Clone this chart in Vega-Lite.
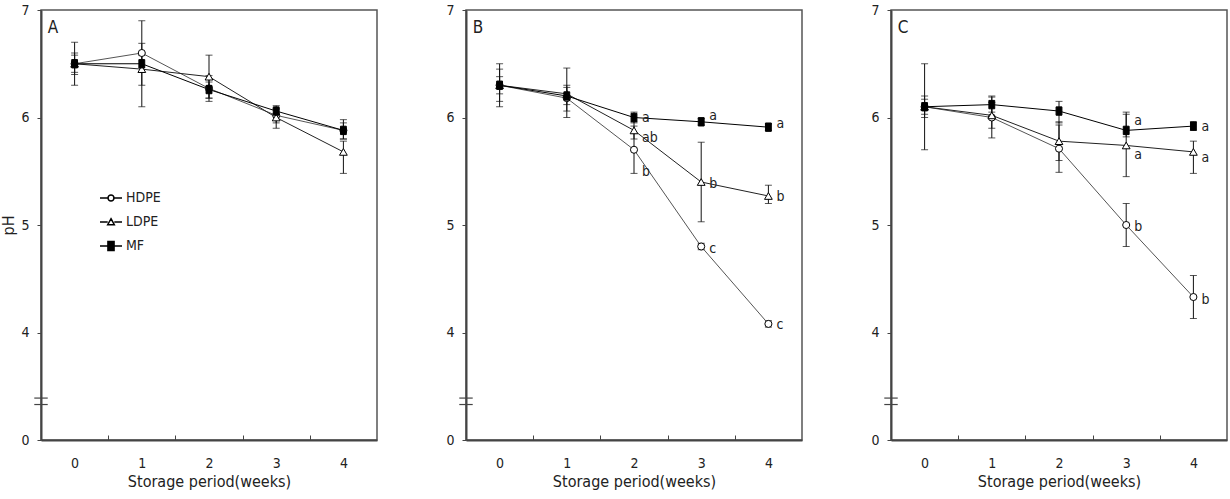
{
  "$schema": "https://vega.github.io/schema/vega-lite/v6.json",
  "padding": {"left": 0, "top": 2, "right": 4, "bottom": 0},
  "background": "white",
  "datasets": {
    "pts": [
      {"panel":"A","s":"HDPE","w":0,"ph":6.50,"lo":6.30,"hi":6.70},
      {"panel":"A","s":"HDPE","w":1,"ph":6.60,"lo":6.30,"hi":6.90},
      {"panel":"A","s":"HDPE","w":2,"ph":6.27,"lo":6.15,"hi":6.39},
      {"panel":"A","s":"HDPE","w":3,"ph":6.02,"lo":5.95,"hi":6.08},
      {"panel":"A","s":"HDPE","w":4,"ph":5.88,"lo":5.80,"hi":5.95},
      {"panel":"A","s":"LDPE","w":0,"ph":6.50,"lo":6.40,"hi":6.60},
      {"panel":"A","s":"LDPE","w":1,"ph":6.45,"lo":6.10,"hi":6.69},
      {"panel":"A","s":"LDPE","w":2,"ph":6.38,"lo":6.18,"hi":6.58},
      {"panel":"A","s":"LDPE","w":3,"ph":6.00,"lo":5.90,"hi":6.08},
      {"panel":"A","s":"LDPE","w":4,"ph":5.68,"lo":5.48,"hi":5.78},
      {"panel":"A","s":"MF","w":0,"ph":6.50,"lo":6.42,"hi":6.58},
      {"panel":"A","s":"MF","w":1,"ph":6.50,"lo":6.42,"hi":6.58},
      {"panel":"A","s":"MF","w":2,"ph":6.26,"lo":6.18,"hi":6.33},
      {"panel":"A","s":"MF","w":3,"ph":6.06,"lo":6.01,"hi":6.11},
      {"panel":"A","s":"MF","w":4,"ph":5.88,"lo":5.80,"hi":5.98},
      {"panel":"B","s":"HDPE","w":0,"ph":6.30,"lo":6.10,"hi":6.50},
      {"panel":"B","s":"HDPE","w":1,"ph":6.18,"lo":6.06,"hi":6.30},
      {"panel":"B","s":"HDPE","w":2,"ph":5.70,"lo":5.48,"hi":5.92},
      {"panel":"B","s":"HDPE","w":3,"ph":4.80,"lo":4.77,"hi":4.83},
      {"panel":"B","s":"HDPE","w":4,"ph":4.08,"lo":4.05,"hi":4.11},
      {"panel":"B","s":"LDPE","w":0,"ph":6.30,"lo":6.15,"hi":6.45},
      {"panel":"B","s":"LDPE","w":1,"ph":6.22,"lo":6.00,"hi":6.46},
      {"panel":"B","s":"LDPE","w":2,"ph":5.88,"lo":5.80,"hi":5.96},
      {"panel":"B","s":"LDPE","w":3,"ph":5.40,"lo":5.03,"hi":5.77},
      {"panel":"B","s":"LDPE","w":4,"ph":5.27,"lo":5.20,"hi":5.37},
      {"panel":"B","s":"MF","w":0,"ph":6.30,"lo":6.22,"hi":6.38},
      {"panel":"B","s":"MF","w":1,"ph":6.20,"lo":6.12,"hi":6.28},
      {"panel":"B","s":"MF","w":2,"ph":6.00,"lo":5.95,"hi":6.05},
      {"panel":"B","s":"MF","w":3,"ph":5.96,"lo":5.93,"hi":5.99},
      {"panel":"B","s":"MF","w":4,"ph":5.91,"lo":5.88,"hi":5.94},
      {"panel":"C","s":"HDPE","w":0,"ph":6.10,"lo":5.70,"hi":6.50},
      {"panel":"C","s":"HDPE","w":1,"ph":6.00,"lo":5.81,"hi":6.19},
      {"panel":"C","s":"HDPE","w":2,"ph":5.71,"lo":5.49,"hi":5.93},
      {"panel":"C","s":"HDPE","w":3,"ph":5.00,"lo":4.80,"hi":5.20},
      {"panel":"C","s":"HDPE","w":4,"ph":4.33,"lo":4.13,"hi":4.53},
      {"panel":"C","s":"LDPE","w":0,"ph":6.10,"lo":6.00,"hi":6.20},
      {"panel":"C","s":"LDPE","w":1,"ph":6.02,"lo":5.90,"hi":6.14},
      {"panel":"C","s":"LDPE","w":2,"ph":5.78,"lo":5.60,"hi":5.96},
      {"panel":"C","s":"LDPE","w":3,"ph":5.74,"lo":5.45,"hi":6.03},
      {"panel":"C","s":"LDPE","w":4,"ph":5.68,"lo":5.48,"hi":5.78},
      {"panel":"C","s":"MF","w":0,"ph":6.10,"lo":6.03,"hi":6.17},
      {"panel":"C","s":"MF","w":1,"ph":6.12,"lo":6.05,"hi":6.20},
      {"panel":"C","s":"MF","w":2,"ph":6.06,"lo":5.95,"hi":6.15},
      {"panel":"C","s":"MF","w":3,"ph":5.88,"lo":5.82,"hi":6.05},
      {"panel":"C","s":"MF","w":4,"ph":5.92,"lo":5.88,"hi":5.96}
    ],
    "lbl": [
      {"panel":"B","w":2,"ph":6.00,"t":"a"},
      {"panel":"B","w":2,"ph":5.81,"t":"ab"},
      {"panel":"B","w":2,"ph":5.49,"t":"b"},
      {"panel":"B","w":3,"ph":6.01,"t":"a"},
      {"panel":"B","w":3,"ph":5.38,"t":"b"},
      {"panel":"B","w":3,"ph":4.78,"t":"c"},
      {"panel":"B","w":4,"ph":5.94,"t":"a"},
      {"panel":"B","w":4,"ph":5.26,"t":"b"},
      {"panel":"B","w":4,"ph":4.07,"t":"c"},
      {"panel":"C","w":3,"ph":5.97,"t":"a"},
      {"panel":"C","w":3,"ph":5.65,"t":"a"},
      {"panel":"C","w":3,"ph":4.98,"t":"b"},
      {"panel":"C","w":4,"ph":5.91,"t":"a"},
      {"panel":"C","w":4,"ph":5.62,"t":"a"},
      {"panel":"C","w":4,"ph":4.30,"t":"b"}
    ],
    "tag": [
      {"panel":"A","w":-0.4,"ph":6.83,"t":"A"},
      {"panel":"B","w":-0.4,"ph":6.83,"t":"B"},
      {"panel":"C","w":-0.4,"ph":6.83,"t":"C"}
    ],
    "brk": [
      {"w":-0.6,"w2":-0.4,"ph":3.39},
      {"w":-0.6,"w2":-0.4,"ph":3.33}
    ],
    "leg": [
      {"s":"HDPE"},{"s":"LDPE"},{"s":"MF"}
    ]
  },
  "spacing": 67,
  "hconcat": [
    {
      "width": 336, "height": 430,
      "resolve": {"scale": {"shape": "independent"}},
      "encoding": {
        "x": {"field":"w","type":"quantitative","scale":{"domain":[-0.5,4.5],"nice":false,"zero":false},
              "axis":{"title":"Storage period(weeks)","values":[0,0.5,1,1.5,2,2.5,3,3.5,4],"labelExpr":"datum.value % 1 === 0 ? format(datum.value, 'd') : ''","tickOpacity":{"condition":{"test":"datum.value % 1 === 0","value":0},"value":1},"tickSize":-5,"labelPadding":21,"titlePadding":3}},
        "y": {"field":"ph","type":"quantitative","scale":{"domain":[3,7],"nice":false,"zero":false},"axis":{"title":"pH","values":[3,4,5,6,7]}}
      },
      "layer": [
        {"data":{"name":"pts"},"transform":[{"filter":"datum.panel == 'A'"}],
         "mark":{"type":"rule","color":"#111","strokeWidth":1},
         "encoding":{"y":{"field":"lo","type":"quantitative","scale":{"domain":[3,7],"nice":false,"zero":false},"axis":{"title":"pH","values":[3,4,5,6,7]}},"y2":{"field":"hi"}}},
        {"data":{"name":"pts"},"transform":[{"filter":"datum.panel == 'A'"}],
         "mark":{"type":"tick","orient":"horizontal","color":"#111","size":7,"thickness":1},
         "encoding":{"y":{"field":"lo","type":"quantitative","scale":{"domain":[3,7],"nice":false,"zero":false},"axis":{"title":"pH","values":[3,4,5,6,7]}}}},
        {"data":{"name":"pts"},"transform":[{"filter":"datum.panel == 'A'"}],
         "mark":{"type":"tick","orient":"horizontal","color":"#111","size":7,"thickness":1},
         "encoding":{"y":{"field":"hi","type":"quantitative","scale":{"domain":[3,7],"nice":false,"zero":false},"axis":{"title":"pH","values":[3,4,5,6,7]}}}},
        {"data":{"name":"brk"},
         "mark":{"type":"rule","color":"#444","strokeWidth":1.2,"clip":false},
         "encoding":{"x2":{"field":"w2"}}},
        {"data":{"name":"pts"},"transform":[{"filter":"datum.panel == 'A'"}],
         "mark":{"type":"line"},
         "encoding":{"stroke":{"field":"s","type":"nominal","scale":{"domain":["HDPE","LDPE","MF"],"range":["#555","#222","#000"]},"legend":null},
                     "strokeWidth":{"field":"s","type":"nominal","scale":{"domain":["HDPE","LDPE","MF"],"range":[1,1,1.5]},"legend":null}}},
        {"data":{"name":"pts"},"transform":[{"filter":"datum.panel == 'A'"}],
         "mark":{"type":"point","filled":false,"stroke":"#000","strokeWidth":1,"opacity":1},
         "encoding":{"shape":{"field":"s","type":"nominal","scale":{"domain":["HDPE","LDPE","MF"],"range":["circle","triangle-up","M-0.7,-1H0.7V1H-0.7Z"]},"legend":null},
                     "fill":{"field":"s","type":"nominal","scale":{"domain":["HDPE","LDPE","MF"],"range":["#fff","#fff","#000"]},"legend":null},
                     "size":{"field":"s","type":"nominal","scale":{"domain":["HDPE","LDPE","MF"],"range":[50,70,144]},"legend":null}}},
        {"data":{"name":"tag"},"transform":[{"filter":"datum.panel == 'A'"}],
         "mark":{"type":"text","align":"left","baseline":"middle","fontSize":17,"color":"#222"},
         "encoding":{"text":{"field":"t"}}},
        {"data":{"name":"leg"},"transform":[{"filter":"false"}],
         "mark":{"type":"point","stroke":"#000","strokeWidth":1,"opacity":1,"size":484,"filled":false},
         "encoding":{"shape":{"field":"s","type":"nominal","scale":{"domain":["HDPE","LDPE","MF"],"range":["M-1,0H-0.27M0.27,0H1M-0.27,0A0.27,0.27 0 1,0 0.27,0A0.27,0.27 0 1,0 -0.27,0Z","M-1,0H-0.3M0.3,0H1M0,-0.3L0.3,0.25H-0.3Z","M-1,0H-0.28M0.28,0H1M-0.28,-0.4H0.28V0.4H-0.28ZM-0.24,-0.4V0.4M-0.2,-0.4V0.4M-0.16,-0.4V0.4M-0.12,-0.4V0.4M-0.08,-0.4V0.4M-0.04,-0.4V0.4M0,-0.4V0.4M0.04,-0.4V0.4M0.08,-0.4V0.4M0.12,-0.4V0.4M0.16,-0.4V0.4M0.2,-0.4V0.4M0.24,-0.4V0.4"]},
                              "legend":{"title":null,"orient":"none","legendX":58,"legendY":176,"labelFontSize":14,"labelOffset":3,"rowPadding":5,"padding":0,"symbolSize":484,"labelColor":"#222",
                                        "encode":{"symbols":{"stroke":{"value":"#000"},"strokeWidth":{"value":1},"fill":{"value":"#fff"}}}}}}}
      ]
    },
    {
      "width": 336, "height": 430,
      "encoding": {
        "x": {"field":"w","type":"quantitative","scale":{"domain":[-0.5,4.5],"nice":false,"zero":false},
              "axis":{"title":"Storage period(weeks)","values":[0,0.5,1,1.5,2,2.5,3,3.5,4],"labelExpr":"datum.value % 1 === 0 ? format(datum.value, 'd') : ''","tickOpacity":{"condition":{"test":"datum.value % 1 === 0","value":0},"value":1},"tickSize":-5,"labelPadding":21,"titlePadding":3}},
        "y": {"field":"ph","type":"quantitative","scale":{"domain":[3,7],"nice":false,"zero":false},"axis":{"title":null,"values":[3,4,5,6,7]}}
      },
      "layer": [
        {"data":{"name":"pts"},"transform":[{"filter":"datum.panel == 'B'"}],
         "mark":{"type":"rule","color":"#111","strokeWidth":1},
         "encoding":{"y":{"field":"lo","type":"quantitative","scale":{"domain":[3,7],"nice":false,"zero":false},"axis":{"title":null,"values":[3,4,5,6,7]}},"y2":{"field":"hi"}}},
        {"data":{"name":"pts"},"transform":[{"filter":"datum.panel == 'B'"}],
         "mark":{"type":"tick","orient":"horizontal","color":"#111","size":7,"thickness":1},
         "encoding":{"y":{"field":"lo","type":"quantitative","scale":{"domain":[3,7],"nice":false,"zero":false},"axis":{"title":null,"values":[3,4,5,6,7]}}}},
        {"data":{"name":"pts"},"transform":[{"filter":"datum.panel == 'B'"}],
         "mark":{"type":"tick","orient":"horizontal","color":"#111","size":7,"thickness":1},
         "encoding":{"y":{"field":"hi","type":"quantitative","scale":{"domain":[3,7],"nice":false,"zero":false},"axis":{"title":null,"values":[3,4,5,6,7]}}}},
        {"data":{"name":"brk"},
         "mark":{"type":"rule","color":"#444","strokeWidth":1.2,"clip":false},
         "encoding":{"x2":{"field":"w2"}}},
        {"data":{"name":"pts"},"transform":[{"filter":"datum.panel == 'B'"}],
         "mark":{"type":"line"},
         "encoding":{"stroke":{"field":"s","type":"nominal","scale":{"domain":["HDPE","LDPE","MF"],"range":["#555","#222","#000"]},"legend":null},
                     "strokeWidth":{"field":"s","type":"nominal","scale":{"domain":["HDPE","LDPE","MF"],"range":[1,1,1.5]},"legend":null}}},
        {"data":{"name":"pts"},"transform":[{"filter":"datum.panel == 'B'"}],
         "mark":{"type":"point","filled":false,"stroke":"#000","strokeWidth":1,"opacity":1},
         "encoding":{"shape":{"field":"s","type":"nominal","scale":{"domain":["HDPE","LDPE","MF"],"range":["circle","triangle-up","M-0.7,-1H0.7V1H-0.7Z"]},"legend":null},
                     "fill":{"field":"s","type":"nominal","scale":{"domain":["HDPE","LDPE","MF"],"range":["#fff","#fff","#000"]},"legend":null},
                     "size":{"field":"s","type":"nominal","scale":{"domain":["HDPE","LDPE","MF"],"range":[50,70,144]},"legend":null}}},
        {"data":{"name":"lbl"},"transform":[{"filter":"datum.panel == 'B'"}],
         "mark":{"type":"text","align":"left","baseline":"middle","dx":8,"fontSize":14,"color":"#222"},
         "encoding":{"text":{"field":"t"}}},
        {"data":{"name":"tag"},"transform":[{"filter":"datum.panel == 'B'"}],
         "mark":{"type":"text","align":"left","baseline":"middle","fontSize":17,"color":"#222"},
         "encoding":{"text":{"field":"t"}}}
      ]
    },
    {
      "width": 336, "height": 430,
      "encoding": {
        "x": {"field":"w","type":"quantitative","scale":{"domain":[-0.5,4.5],"nice":false,"zero":false},
              "axis":{"title":"Storage period(weeks)","values":[0,0.5,1,1.5,2,2.5,3,3.5,4],"labelExpr":"datum.value % 1 === 0 ? format(datum.value, 'd') : ''","tickOpacity":{"condition":{"test":"datum.value % 1 === 0","value":0},"value":1},"tickSize":-5,"labelPadding":21,"titlePadding":3}},
        "y": {"field":"ph","type":"quantitative","scale":{"domain":[3,7],"nice":false,"zero":false},"axis":{"title":null,"values":[3,4,5,6,7]}}
      },
      "layer": [
        {"data":{"name":"pts"},"transform":[{"filter":"datum.panel == 'C'"}],
         "mark":{"type":"rule","color":"#111","strokeWidth":1},
         "encoding":{"y":{"field":"lo","type":"quantitative","scale":{"domain":[3,7],"nice":false,"zero":false},"axis":{"title":null,"values":[3,4,5,6,7]}},"y2":{"field":"hi"}}},
        {"data":{"name":"pts"},"transform":[{"filter":"datum.panel == 'C'"}],
         "mark":{"type":"tick","orient":"horizontal","color":"#111","size":7,"thickness":1},
         "encoding":{"y":{"field":"lo","type":"quantitative","scale":{"domain":[3,7],"nice":false,"zero":false},"axis":{"title":null,"values":[3,4,5,6,7]}}}},
        {"data":{"name":"pts"},"transform":[{"filter":"datum.panel == 'C'"}],
         "mark":{"type":"tick","orient":"horizontal","color":"#111","size":7,"thickness":1},
         "encoding":{"y":{"field":"hi","type":"quantitative","scale":{"domain":[3,7],"nice":false,"zero":false},"axis":{"title":null,"values":[3,4,5,6,7]}}}},
        {"data":{"name":"brk"},
         "mark":{"type":"rule","color":"#444","strokeWidth":1.2,"clip":false},
         "encoding":{"x2":{"field":"w2"}}},
        {"data":{"name":"pts"},"transform":[{"filter":"datum.panel == 'C'"}],
         "mark":{"type":"line"},
         "encoding":{"stroke":{"field":"s","type":"nominal","scale":{"domain":["HDPE","LDPE","MF"],"range":["#555","#222","#000"]},"legend":null},
                     "strokeWidth":{"field":"s","type":"nominal","scale":{"domain":["HDPE","LDPE","MF"],"range":[1,1,1.5]},"legend":null}}},
        {"data":{"name":"pts"},"transform":[{"filter":"datum.panel == 'C'"}],
         "mark":{"type":"point","filled":false,"stroke":"#000","strokeWidth":1,"opacity":1},
         "encoding":{"shape":{"field":"s","type":"nominal","scale":{"domain":["HDPE","LDPE","MF"],"range":["circle","triangle-up","M-0.7,-1H0.7V1H-0.7Z"]},"legend":null},
                     "fill":{"field":"s","type":"nominal","scale":{"domain":["HDPE","LDPE","MF"],"range":["#fff","#fff","#000"]},"legend":null},
                     "size":{"field":"s","type":"nominal","scale":{"domain":["HDPE","LDPE","MF"],"range":[50,70,144]},"legend":null}}},
        {"data":{"name":"lbl"},"transform":[{"filter":"datum.panel == 'C'"}],
         "mark":{"type":"text","align":"left","baseline":"middle","dx":8,"fontSize":14,"color":"#222"},
         "encoding":{"text":{"field":"t"}}},
        {"data":{"name":"tag"},"transform":[{"filter":"datum.panel == 'C'"}],
         "mark":{"type":"text","align":"left","baseline":"middle","fontSize":17,"color":"#222"},
         "encoding":{"text":{"field":"t"}}}
      ]
    }
  ],
  "config": {
    "font": "DejaVu Sans Condensed, Liberation Sans Narrow, Liberation Sans, sans-serif",
    "view": {"stroke": "#555", "strokeWidth": 1.5},
    "axis": {"grid": false, "labelFontSize": 14, "labelColor": "#222",
             "titleFontWeight": "normal", "titleFontSize": 16, "titleColor": "#222",
             "domainColor": "#444", "domainWidth": 2, "tickColor": "#444", "tickWidth": 1},
    "axisY": {"labelExpr": "datum.value == 3 ? '0' : datum.label", "tickSize": 4, "labelPadding": 8, "titlePadding": 4}
  }
}
